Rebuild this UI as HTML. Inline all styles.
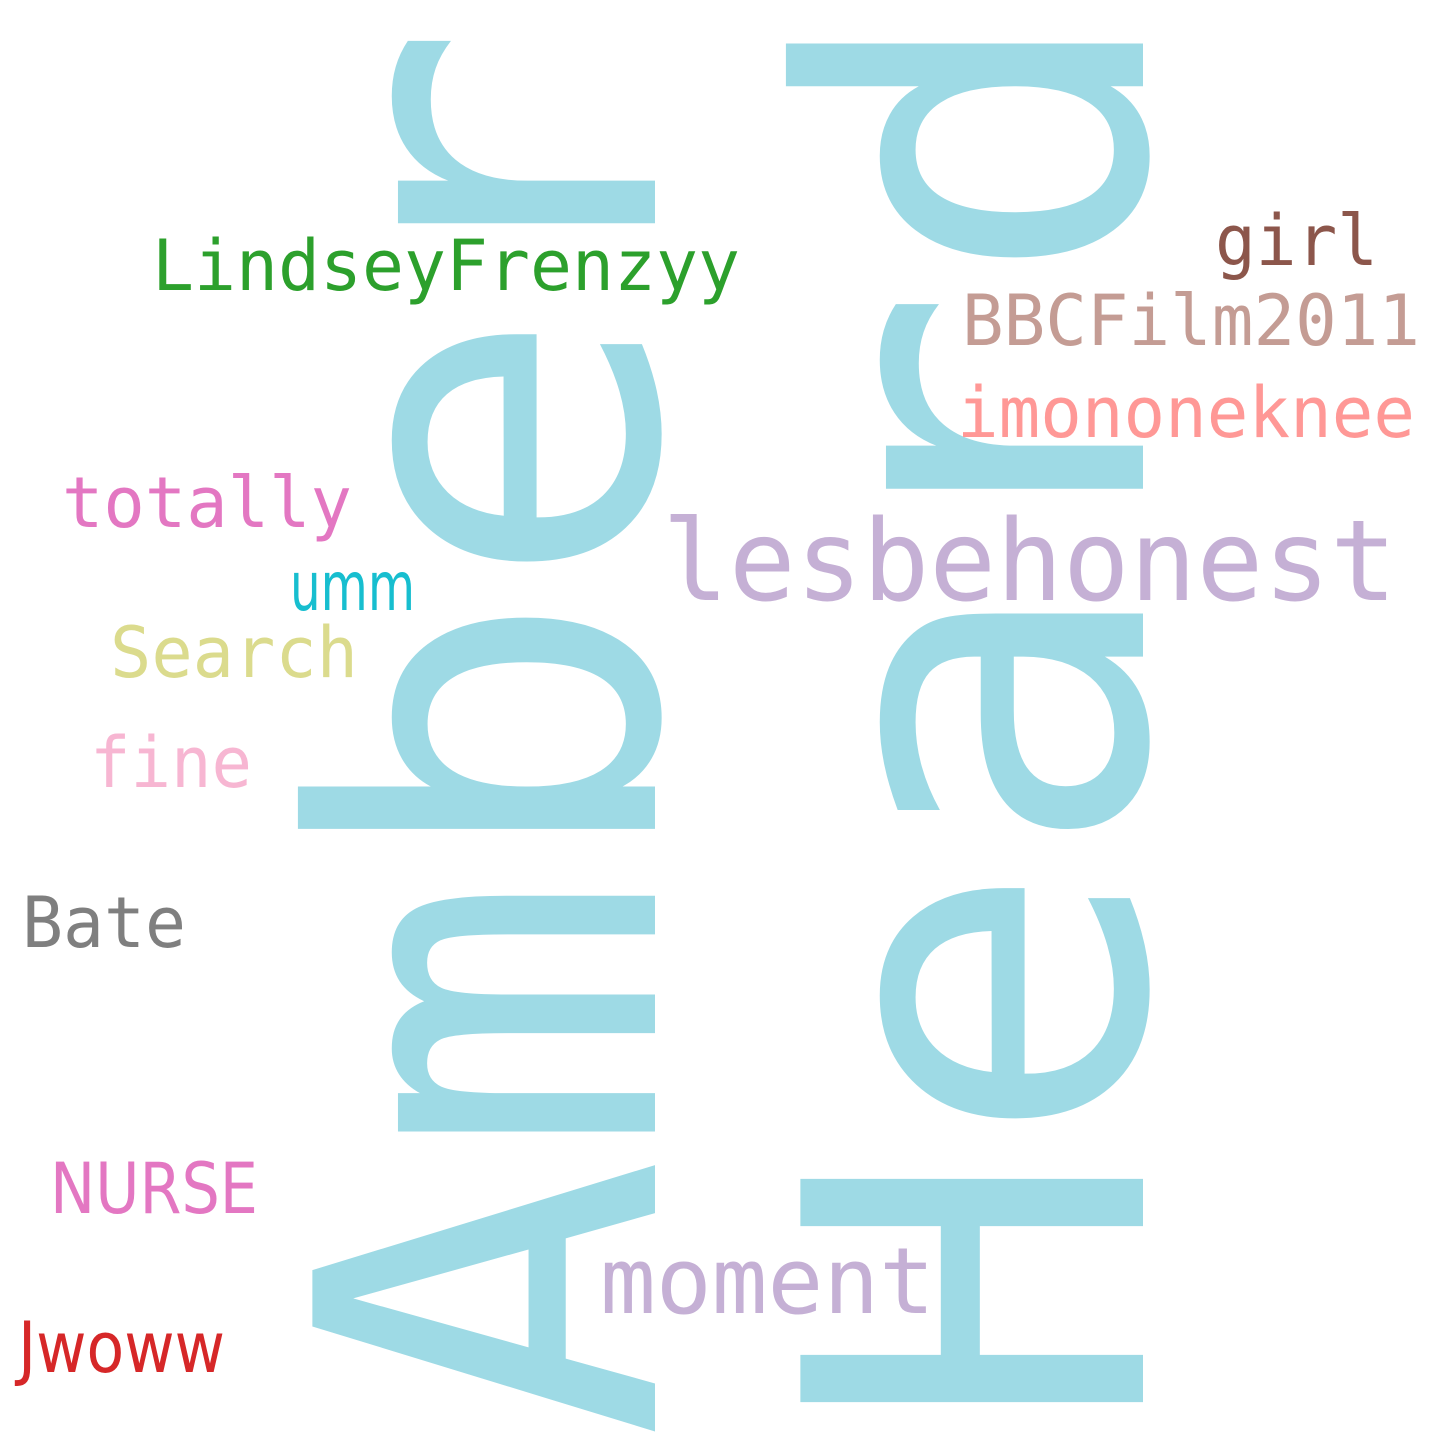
<!DOCTYPE html>
<html><head><meta charset="utf-8"><style>
html,body{margin:0;padding:0;background:#fff;}
svg{display:block;}
text{font-family:"DejaVu Sans Mono","Liberation Mono",monospace;}
.s{font-family:"DejaVu Sans","Liberation Sans",sans-serif;}
</style></head><body>
<svg width="1440" height="1440" viewBox="0 0 1440 1440">
<rect width="1440" height="1440" fill="#fff"/>
<text transform="translate(655,1440) rotate(-90)" font-size="470" fill="#9edae5" textLength="1417" lengthAdjust="spacingAndGlyphs">Amber</text>
<text transform="translate(1143,1434) rotate(-90)" font-size="470" fill="#9edae5" textLength="1435" lengthAdjust="spacingAndGlyphs">Heard</text>
<text x="152" y="290" font-size="70" fill="#2ca02c" textLength="588" lengthAdjust="spacingAndGlyphs">LindseyFrenzyy</text>
<text x="1215" y="265" font-size="70" fill="#8c564b" textLength="163" lengthAdjust="spacingAndGlyphs">girl</text>
<text x="962" y="345" font-size="70" fill="#c49c94" textLength="458" lengthAdjust="spacingAndGlyphs">BBCFilm2011</text>
<text x="957" y="437" font-size="70" fill="#ff9896" textLength="458" lengthAdjust="spacingAndGlyphs">imononeknee</text>
<text x="662" y="600" font-size="112" fill="#c5b0d5" textLength="735" lengthAdjust="spacingAndGlyphs">lesbehonest</text>
<text x="62" y="527" font-size="70" fill="#e377c2" textLength="290" lengthAdjust="spacingAndGlyphs">totally</text>
<text class="s" x="290" y="610" font-size="68" fill="#17becf" textLength="125" lengthAdjust="spacingAndGlyphs">umm</text>
<text x="110" y="677" font-size="70" fill="#dbdb8d" textLength="248" lengthAdjust="spacingAndGlyphs">Search</text>
<text x="90" y="787" font-size="70" fill="#f7b6d2" textLength="162" lengthAdjust="spacingAndGlyphs">fine</text>
<text x="22" y="947" font-size="70" fill="#7f7f7f" textLength="164" lengthAdjust="spacingAndGlyphs">Bate</text>
<text class="s" x="50" y="1213" font-size="70" fill="#e377c2" textLength="208" lengthAdjust="spacingAndGlyphs">NURSE</text>
<text x="600" y="1313" font-size="92" fill="#c5b0d5" textLength="335" lengthAdjust="spacingAndGlyphs">moment</text>
<text class="s" x="18" y="1372" font-size="70" fill="#d62728" textLength="207" lengthAdjust="spacingAndGlyphs">Jwoww</text>
</svg>
</body></html>
